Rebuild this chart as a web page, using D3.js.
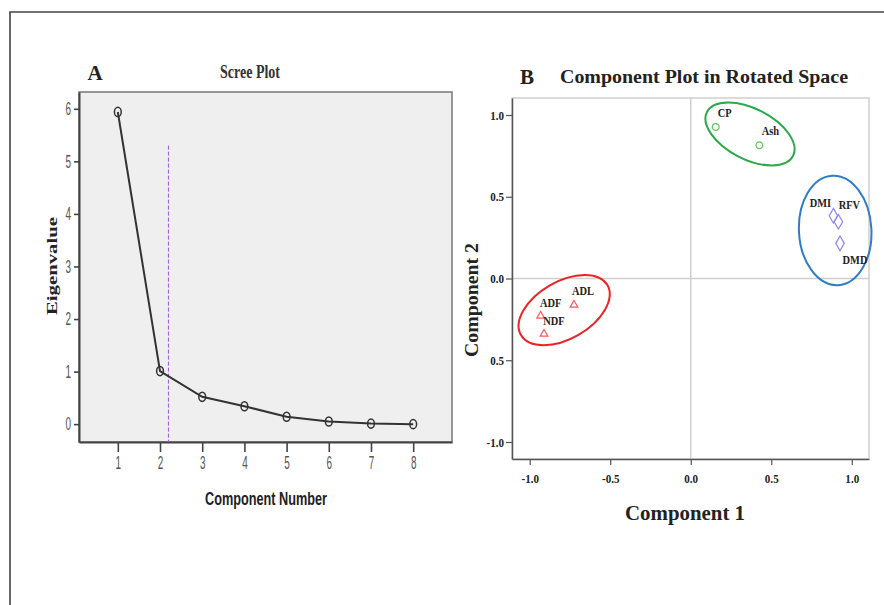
<!DOCTYPE html>
<html><head><meta charset="utf-8">
<script src="https://cdn.jsdelivr.net/npm/d3@7"></script>
<style>
html,body{margin:0;padding:0;background:#fff;}
svg{display:block;}
</style></head>
<body>
<svg id="c" width="884" height="605"></svg>
<script>
// ---------- Data ----------
const components = [1, 2, 3, 4, 5, 6, 7, 8];
const eigenvalues = [5.94, 1.01, 0.52, 0.34, 0.14, 0.05, 0.01, 0.0];
const screeYTicks = [0, 1, 2, 3, 4, 5, 6];
const cutoffComponent = 2.2;
const cutoffTop = 5.3;

const variables = ["CP", "Ash", "DMI", "RFV", "DMD", "ADF", "NDF", "ADL"];
const comp1 = [0.155, 0.426, 0.886, 0.917, 0.927, -0.932, -0.911, -0.725];
const comp2 = [0.927, 0.815, 0.384, 0.347, 0.215, -0.229, -0.339, -0.162];
const groups = ["g", "g", "b", "b", "b", "r", "r", "r"];
const axisTicksB = [-1.0, -0.5, 0.0, 0.5, 1.0];
const xTickLabelsB = ["-1.0", "-0.5", "0.0", "0.5", "1.0"];
const yTickLabelsB = ["-1.0", "0.5", "0.0", "0.5", "1.0"];
// cluster ellipses in data units: centre x, centre y, radius x, radius y, tilt (deg)
const clusterNames = ["g", "b", "r"];
const clusterCx = [0.368, 0.897, -0.786];
const clusterCy = [0.884, 0.294, -0.193];
const clusterRx = [0.30, 0.225, 0.31];
const clusterRy = [0.155, 0.335, 0.175];
const clusterTilt = [27, -3, -30];

// ---------- Drawing ----------
const svg = d3.select("#c");
const serif = "'Liberation Serif','Times New Roman',serif";
const sans = "'Liberation Sans',Arial,sans-serif";

function squeeze(sel, factor) {
  sel.each(function () {
    const w = this.getComputedTextLength();
    d3.select(this).attr("textLength", w * factor).attr("lengthAdjust", "spacingAndGlyphs");
  });
}
function fitWidth(sel, width) {
  sel.attr("textLength", width).attr("lengthAdjust", "spacingAndGlyphs");
}

// outer frame
svg.append("path").attr("d", "M10,605 L10,12 L884,12")
  .attr("fill", "none").attr("stroke", "#444").attr("stroke-width", 1.6);

// ===== Panel A: Scree plot =====
const xA = d3.scaleLinear().domain([0.08, 8.92]).range([79, 452]);
const yA = d3.scaleLinear().domain([-0.34, 6.32]).range([442, 92]);
const gA = svg.append("g");
gA.append("rect").attr("x", xA.range()[0]).attr("y", yA.range()[1])
  .attr("width", xA.range()[1] - xA.range()[0]).attr("height", yA.range()[0] - yA.range()[1])
  .attr("fill", "#efefef").attr("stroke", "#777").attr("stroke-width", 1.5);

const axA_y = gA.append("g").attr("transform", `translate(${xA.range()[0]},0)`)
  .call(d3.axisLeft(yA).tickValues(screeYTicks).tickSize(5).tickSizeOuter(0).tickPadding(3).tickFormat(d3.format("d")));
const axA_x = gA.append("g").attr("transform", `translate(0,${yA.range()[0]})`)
  .call(d3.axisBottom(xA).tickValues(components).tickSize(10).tickSizeOuter(0).tickPadding(4).tickFormat(d3.format("d")));
[axA_y, axA_x].forEach(a => {
  a.attr("font-size", null);
  a.select(".domain").attr("stroke", "#444").attr("stroke-width", 2);
  a.selectAll(".tick line").attr("stroke", "#444").attr("stroke-width", 1.6);
  a.selectAll(".tick text").attr("fill", "#555").attr("font-family", sans).style("font-size", "18px");
  squeeze(a.selectAll(".tick text"), 0.55);
});

gA.append("line").attr("x1", xA(cutoffComponent)).attr("x2", xA(cutoffComponent))
  .attr("y1", yA(cutoffTop)).attr("y2", yA.range()[0])
  .attr("stroke", "#9a5ad8").attr("stroke-width", 1).attr("stroke-dasharray", "4,2");

const lineA = d3.line().x((d, i) => xA(components[i])).y(d => yA(d));
gA.append("path").datum(eigenvalues).attr("d", lineA)
  .attr("fill", "none").attr("stroke", "#333").attr("stroke-width", 2);
gA.selectAll("ellipse.pt").data(eigenvalues).join("ellipse").attr("class", "pt")
  .attr("cx", (d, i) => xA(components[i])).attr("cy", d => yA(d))
  .attr("rx", 3.4).attr("ry", 4.6)
  .attr("fill", "none").attr("stroke", "#333").attr("stroke-width", 1.5);

gA.append("text").attr("x", 95).attr("y", 80).attr("text-anchor", "middle")
  .attr("font-family", serif).attr("font-weight", "bold").attr("font-size", 21).attr("fill", "#222").text("A");
gA.append("text").attr("x", 250).attr("y", 78).attr("text-anchor", "middle")
  .attr("font-family", serif).attr("font-weight", "bold").attr("font-size", 19).attr("fill", "#333").text("Scree Plot")
  .call(fitWidth, 60);
gA.append("text").attr("x", 266).attr("y", 505).attr("text-anchor", "middle")
  .attr("font-family", sans).attr("font-weight", "bold").attr("font-size", 19).attr("fill", "#222").text("Component Number")
  .call(fitWidth, 122);
gA.append("text").attr("transform", "translate(57,266) rotate(-90)").attr("text-anchor", "middle")
  .attr("font-family", serif).attr("font-weight", "bold").attr("font-size", 15).attr("fill", "#222").text("Eigenvalue")
  .call(fitWidth, 98);

// ===== Panel B: Component plot =====
const xB = d3.scaleLinear().domain([-1.11, 1.107]).range([512, 869]);
const yB = d3.scaleLinear().domain([-1.104, 1.104]).range([459, 98]);
const gB = svg.append("g");
gB.append("rect").attr("x", xB.range()[0]).attr("y", yB.range()[1])
  .attr("width", xB.range()[1] - xB.range()[0]).attr("height", yB.range()[0] - yB.range()[1])
  .attr("fill", "#fff").attr("stroke", "#d0d0d0").attr("stroke-width", 1.5);
gB.append("line").attr("x1", xB(0)).attr("x2", xB(0)).attr("y1", yB.range()[1]).attr("y2", yB.range()[0])
  .attr("stroke", "#cfcfcf").attr("stroke-width", 1.5);
gB.append("line").attr("x1", xB.range()[0]).attr("x2", xB.range()[1]).attr("y1", yB(0)).attr("y2", yB(0))
  .attr("stroke", "#cfcfcf").attr("stroke-width", 1.5);

const axB_y = gB.append("g").attr("transform", `translate(${xB.range()[0]},0)`)
  .call(d3.axisLeft(yB).tickValues(axisTicksB).tickSize(6).tickSizeOuter(0).tickPadding(2).tickFormat((d, i) => yTickLabelsB[i]));
const axB_x = gB.append("g").attr("transform", `translate(0,${yB.range()[0]})`)
  .call(d3.axisBottom(xB).tickValues(axisTicksB).tickSize(6).tickSizeOuter(0).tickPadding(9).tickFormat((d, i) => xTickLabelsB[i]));
[axB_y, axB_x].forEach(a => {
  a.attr("font-size", null);
  a.select(".domain").attr("stroke", "#555").attr("stroke-width", 1.5);
  a.selectAll(".tick line").attr("stroke", "#555").attr("stroke-width", 1.2);
  a.selectAll(".tick text").attr("fill", "#222").attr("font-family", serif).attr("font-weight", "bold")
    .style("font-size", "13px");
  squeeze(a.selectAll(".tick text"), 0.85);
});

const colorOf = {g: "#5cc15c", b: "#8a86f5", r: "#ff5a5a"};
const ellColor = {g: "#2aa84a", b: "#2f7cc8", r: "#ee2222"};
const symOf = {g: d3.symbolCircle, b: d3.symbolDiamond, r: d3.symbolTriangle};
const sizeOf = {g: 36, b: 62, r: 26};

// ellipses
gB.selectAll("ellipse.cl").data(clusterNames).join("ellipse").attr("class", "cl")
  .attr("transform", (d, i) => `translate(${xB(clusterCx[i])},${yB(clusterCy[i])}) rotate(${clusterTilt[i]})`)
  .attr("rx", (d, i) => xB(clusterRx[i]) - xB(0)).attr("ry", (d, i) => yB(0) - yB(clusterRy[i]))
  .attr("fill", "none").attr("stroke", d => ellColor[d]).attr("stroke-width", 2);

// points
gB.selectAll("path.pt").data(variables).join("path").attr("class", "pt")
  .attr("transform", (d, i) => `translate(${xB(comp1[i])},${yB(comp2[i])})`)
  .attr("d", (d, i) => d3.symbol().type(symOf[groups[i]]).size(sizeOf[groups[i]])())
  .attr("fill", "none").attr("stroke", (d, i) => colorOf[groups[i]]).attr("stroke-width", 1.2);

// labels (offset of label centre from each point, in pixels)
const labelDx = [9, 11, -13, 11, 15, 10, 10, 9];
const labelDy = [-14, -15, -13, -17, 16, -13, -13, -14];
gB.selectAll("text.lb").data(variables).join("text").attr("class", "lb")
  .attr("x", (d, i) => xB(comp1[i]) + labelDx[i]).attr("y", (d, i) => yB(comp2[i]) + labelDy[i] + 4.5)
  .attr("text-anchor", "middle").attr("font-family", serif).attr("font-weight", "bold")
  .attr("font-size", 13).attr("fill", "#222").text(d => d)
  .call(squeeze, 0.8);

gB.append("text").attr("x", 527).attr("y", 84).attr("text-anchor", "middle")
  .attr("font-family", serif).attr("font-weight", "bold").attr("font-size", 21).attr("fill", "#222").text("B");
gB.append("text").attr("x", 704).attr("y", 83).attr("text-anchor", "middle")
  .attr("font-family", serif).attr("font-weight", "bold").attr("font-size", 19).attr("fill", "#222")
  .text("Component Plot in Rotated Space").call(fitWidth, 288);
gB.append("text").attr("x", 685).attr("y", 520).attr("text-anchor", "middle")
  .attr("font-family", serif).attr("font-weight", "bold").attr("font-size", 20).attr("fill", "#222").text("Component 1")
  .call(fitWidth, 120);
gB.append("text").attr("transform", "translate(478,300) rotate(-90)").attr("text-anchor", "middle")
  .attr("font-family", serif).attr("font-weight", "bold").attr("font-size", 18).attr("fill", "#222").text("Component 2")
  .call(fitWidth, 114);
</script>
</body></html>
